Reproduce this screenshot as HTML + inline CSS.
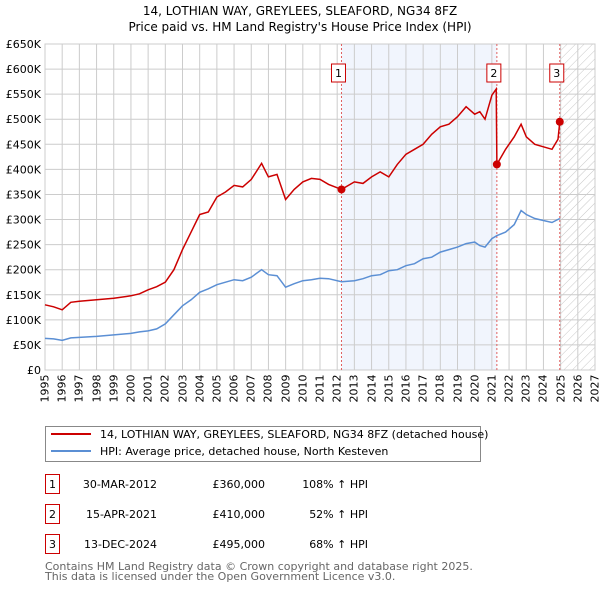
<!DOCTYPE html>
<html><head><meta charset="utf-8">
<style>
body{margin:0;background:#fff;font-family:"DejaVu Sans","Liberation Sans",sans-serif;}
#wrap{position:relative;width:600px;height:590px;overflow:hidden;}
svg text{font-family:"DejaVu Sans","Liberation Sans",sans-serif;}
.xl{position:absolute;font-size:11px;line-height:11px;width:30px;text-align:right;color:#000;transform-origin:100% 50%;transform:rotate(-90deg);white-space:nowrap;}
</style></head><body>
<div id="wrap">
<svg id="chart" width="600" height="590" style="position:absolute;left:0;top:0"></svg>
</div>
<script>
const yTicks=[0,50000,100000,150000,200000,250000,300000,350000,400000,450000,500000,550000,600000,650000];
const yLabels=["£0","£50K","£100K","£150K","£200K","£250K","£300K","£350K","£400K","£450K","£500K","£550K","£600K","£650K"];
const xYears=[1995,1996,1997,1998,1999,2000,2001,2002,2003,2004,2005,2006,2007,2008,2009,2010,2011,2012,2013,2014,2015,2016,2017,2018,2019,2020,2021,2022,2023,2024,2025,2026,2027];
const hpiT=[1995,1995.5,1996,1996.5,1997,1998,1999,2000,2000.5,2001,2001.5,2002,2002.5,2003,2003.5,2004,2004.5,2005,2005.5,2006,2006.5,2007,2007.6,2008,2008.5,2009,2009.5,2010,2010.5,2011,2011.5,2012.25,2013,2013.5,2014,2014.5,2015,2015.5,2016,2016.5,2017,2017.5,2018,2018.5,2019,2019.5,2020,2020.3,2020.6,2021,2021.3,2021.8,2022.3,2022.7,2023,2023.5,2024,2024.5,2024.95];
const hpiV=[63000,62000,59000,64000,65000,67000,70000,73000,76000,78000,82000,92000,110000,128000,140000,155000,162000,170000,175000,180000,178000,185000,200000,190000,188000,165000,172000,178000,180000,183000,182000,176000,178000,182000,188000,190000,198000,200000,208000,212000,222000,225000,235000,240000,245000,252000,255000,248000,245000,262000,268000,275000,290000,318000,310000,302000,298000,294000,302000];
const redT=[1995,1995.5,1996,1996.5,1997,1998,1999,2000,2000.5,2001,2001.5,2002,2002.5,2003,2003.5,2004,2004.5,2005,2005.5,2006,2006.5,2007,2007.6,2008,2008.5,2009,2009.5,2010,2010.5,2011,2011.5,2012.25,2013,2013.5,2014,2014.5,2015,2015.5,2016,2016.5,2017,2017.5,2018,2018.5,2019,2019.5,2020,2020.3,2020.6,2021,2021.25,2021.29,2021.8,2022.3,2022.7,2023,2023.5,2024,2024.5,2024.85,2024.95];
const redV=[130000,126000,120000,135000,137000,140000,143000,148000,152000,160000,166000,175000,200000,240000,275000,310000,315000,345000,355000,368000,365000,380000,412000,385000,390000,340000,360000,375000,382000,380000,370000,360000,375000,372000,385000,395000,385000,410000,430000,440000,450000,470000,485000,490000,505000,525000,510000,515000,500000,548000,560000,410000,440000,465000,490000,465000,450000,445000,440000,460000,495000];
const saleT=[2012.25,2021.29,2024.95];
const saleV=[360000,410000,495000];
const saleLabels=["1","2","3"];
const saleDates=["30-MAR-2012","15-APR-2021","13-DEC-2024"];
const salePrices=["£360,000","£410,000","£495,000"];
const salePct=["108% ↑ HPI","52% ↑ HPI","68% ↑ HPI"];

const L=45,R=595,T=44,B=370;
const X=t=>L+(t-1995)*(R-L)/32;
const Y=v=>B-v*(B-T)/650000;
const svg=document.getElementById('chart');
const wrap=document.getElementById('wrap');
const NS='http://www.w3.org/2000/svg';
function mk(tag,attrs,txt,parent){const e=document.createElementNS(NS,tag);for(const k in attrs)e.setAttribute(k,attrs[k]);if(txt!==undefined)e.textContent=txt;(parent||svg).appendChild(e);return e;}

let e;
e=mk('text',{x:300,y:15,'text-anchor':'middle','font-size':12,fill:'#000'},"14, LOTHIAN WAY, GREYLEES, SLEAFORD, NG34 8FZ");


e=mk('text',{x:300,y:31,'text-anchor':'middle','font-size':12,fill:'#000'},"Price paid vs. HM Land Registry's House Price Index (HPI)");



e=mk('rect',{x:X(saleT[0]),y:T,width:X(saleT[1])-X(saleT[0]),height:B-T,fill:'#eef3fc',opacity:0.8});


const defs=mk('defs',{});
const pat=document.createElementNS(NS,'pattern');
pat.setAttribute('id','hatch');pat.setAttribute('patternUnits','userSpaceOnUse');pat.setAttribute('width',6);pat.setAttribute('height',6);pat.setAttribute('patternTransform','rotate(45)');
const pl=document.createElementNS(NS,'line');pl.setAttribute('x1',0);pl.setAttribute('y1',0);pl.setAttribute('x2',0);pl.setAttribute('y2',6);pl.setAttribute('stroke','#c8c8c8');pl.setAttribute('stroke-width',1);
pat.appendChild(pl);defs.appendChild(pat);
e=mk('rect',{x:X(2025),y:T,width:R-X(2025),height:B-T,fill:'url(#hatch)'});



yTicks.forEach((v,i)=>{
  e=mk('line',{x1:L,x2:R,y1:Y(v),y2:Y(v),stroke:'#cccccc','stroke-width':1});
  
  
  e=mk('text',{x:L-4,y:Y(v)+4,'text-anchor':'end','font-size':11,fill:'#000'},yLabels[i]);
  
  
});
xYears.forEach(yr=>{
  e=mk('line',{x1:X(yr),x2:X(yr),y1:T,y2:B,stroke:'#cccccc','stroke-width':1});
  
  
  const d=document.createElement('div');
  d.className='xl';
  d.textContent=String(yr);
  // box right edge at pivot; pivot = (X, B+4)
  d.style.left=(X(yr)-30)+'px';
  d.style.top=(B+4-5.5)+'px';
  
  
  wrap.appendChild(d);
});
e=mk('rect',{x:L,y:T,width:R-L,height:B-T,fill:'none',stroke:'#cccccc'});



saleT.forEach((t,i)=>{
  e=mk('line',{x1:X(t),x2:X(t),y1:T,y2:B,stroke:'#e06060','stroke-width':1,'stroke-dasharray':'2,2'});
  
  
});

function path(ts,vs){return ts.map((t,i)=>(i?'L':'M')+X(t).toFixed(1)+','+Y(vs[i]).toFixed(1)).join('');}
e=mk('path',{d:path(hpiT,hpiV),fill:'none',stroke:'#5b8fd4','stroke-width':1.5});


e=mk('path',{d:path(redT,redV),fill:'none',stroke:'#cc0000','stroke-width':1.5});



saleT.forEach((t,i)=>{
  e=mk('circle',{cx:X(t),cy:Y(saleV[i]),r:4,fill:'#cc0000'});
  
  
  e=mk('rect',{x:X(t)-10,y:64,width:14,height:18,fill:'#fff',stroke:'#cc0000'});
  
  
  e=mk('text',{x:X(t)-3,y:77,'text-anchor':'middle','font-size':11,fill:'#000'},saleLabels[i]);
  
  
});

e=mk('rect',{x:45.5,y:426.5,width:435,height:35,fill:'#fff',stroke:'#888'});


e=mk('line',{x1:51,x2:91,y1:434,y2:434,stroke:'#cc0000','stroke-width':2});


e=mk('text',{x:100,y:438,'font-size':11,fill:'#000'},"14, LOTHIAN WAY, GREYLEES, SLEAFORD, NG34 8FZ (detached house)");


e=mk('line',{x1:51,x2:91,y1:451,y2:451,stroke:'#5b8fd4','stroke-width':2});


e=mk('text',{x:100,y:455,'font-size':11,fill:'#000'},"HPI: Average price, detached house, North Kesteven");



saleT.forEach((t,i)=>{
  const y=483+i*30;
  e=mk('rect',{x:45.5,y:y-8.5,width:14,height:19,fill:'#fff',stroke:'#cc0000'});
  
  
  e=mk('text',{x:52.5,y:y+5,'text-anchor':'middle','font-size':11,fill:'#000'},saleLabels[i]);
  
  
  e=mk('text',{x:157,y:y+5,'text-anchor':'end','font-size':11,fill:'#000'},saleDates[i]);
  
  
  e=mk('text',{x:265,y:y+5,'text-anchor':'end','font-size':11,fill:'#000'},salePrices[i]);
  
  
  e=mk('text',{x:368,y:y+5,'text-anchor':'end','font-size':11,fill:'#000'},salePct[i]);
  
  
});
e=mk('text',{x:45,y:570,'font-size':11,fill:'#666'},"Contains HM Land Registry data © Crown copyright and database right 2025.");


e=mk('text',{x:45,y:580,'font-size':11,fill:'#666'},"This data is licensed under the Open Government Licence v3.0.");


</script>
</body></html>
